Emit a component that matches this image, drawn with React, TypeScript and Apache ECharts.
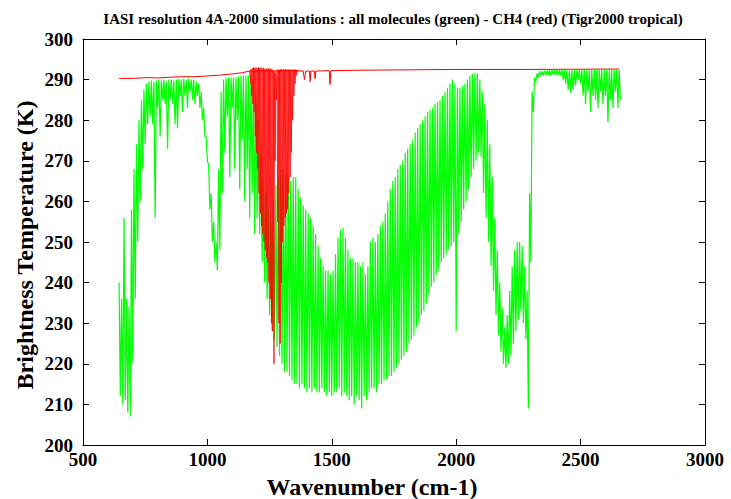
import React, { useEffect, useRef } from "react";
import * as echarts from "echarts";

// ---- Data ----
// Green: all molecules. Upper / lower envelope of the dense line spectrum,
// sampled on a 10 cm-1 grid starting at 645 cm-1.
const greenStart = 645;
const greenStep = 10;
const greenUpper = [
  240, 236, 256, 236, 234, 258, 268, 274, 280, 285, // 645-735
  287.5, 289, 289.5, 289.8, 289.5, 289.8, 290, 289.8, 290, 289.5, // 745-835
  290, 290, 289.8, 290, 290.2, 290, 290.2, 290, 290.3, 290, // 845-935
  290, 289.5, 289, 287, 283, 276, 269, 262, 255, 250, // 945-1035
  268, 287, 290, 290.5, 290.5, 290.5, 290.5, 290.5, 290.8, 291, // 1045-1135
  291, 291, 291, 291, 290, 286, 280, 272, 266, 262, // 1145-1235
  258, 255, 260, 264, 266, 268, 268, 267, 266, 265, // 1245-1335
  266, 266, 263, 261, 259, 258, 257, 256, 254, 252, // 1345-1435
  249, 246, 244, 243, 243, 242, 243, 247, 251, 253, // 1445-1535
  253.5, 251, 248, 246, 246, 245, 245, 244, 245, 242, // 1545-1635
  244, 250, 251, 250, 252, 254, 255, 257, 260, 263, // 1645-1735
  265, 266, 268, 269, 270, 272, 273, 274, 275, 277, // 1745-1835
  278, 279, 280, 281, 282, 282.5, 283, 284, 284.5, 285, // 1845-1935
  286, 287, 288, 289, 290, 289, 288, 288, 288.5, 289, // 1945-2035
  290, 291, 291.5, 291.6, 291.5, 290, 287, 284, 280, 274, // 2045-2135
  266, 256, 248, 240, 234, 229, 232, 238, 244, 248, // 2145-2235
  250, 250, 249, 244, 238, 262, 287, 290.5, 291.5, 292, // 2245-2335
  292, 292.2, 292.2, 292.3, 292.3, 292.4, 292.4, 292.4, 292.4, 292.4, // 2345-2435
  292.3, 292.3, 292.3, 292.4, 292.4, 292.4, 292.4, 292.4, 292.4, 292.4, // 2445-2535
  292.4, 292.4, 292.4, 292.4, 292.4, 292.4, 292.4, 292.4, 292.4, 292.4, // 2545-2635
  292.4, 292.4, // 2645-2655
];
const greenLower = [
  212, 210, 211, 208, 207, 220, 236, 250, 260, 268, // 645-735
  274, 279, 281, 279, 256, 283, 276, 285, 284, 273, // 745-835
  285, 284, 279, 278, 286, 282, 286, 283, 287, 285, // 845-935
  284, 286, 283, 280, 276, 270, 258, 250, 245, 243, // 945-1035
  248, 262, 272, 281, 266, 283, 268, 280, 263, 275, // 1045-1135
  260, 268, 256, 262, 252, 256, 252, 245, 240, 236, // 1145-1235
  232, 228, 226, 224, 222, 220, 218, 218, 217, 216, // 1245-1335
  215, 215, 214, 215, 214, 213, 214, 213, 214, 213, // 1345-1435
  213, 214, 213, 212, 213, 212, 213, 213, 214, 212, // 1445-1535
  213, 212, 211, 212, 210, 212, 211, 209, 212, 211, // 1545-1635
  213, 214, 214, 213, 215, 215, 216, 216, 217, 217, // 1645-1735
  218, 219, 220, 221, 222, 223, 225, 226, 227, 229, // 1745-1835
  230, 232, 233, 235, 237, 239, 240, 242, 243, 245, // 1845-1935
  246, 247, 248, 249, 250, 228, 252, 255, 258, 260, // 1945-2035
  263, 266, 268, 270, 272, 271, 262, 256, 250, 244, // 2045-2135
  238, 232, 227, 223, 220, 219, 220, 222, 225, 228, // 2145-2235
  231, 233, 230, 226, 209, 245, 282, 289.5, 290.5, 291, // 2245-2335
  291, 291, 291.2, 291, 291.2, 291, 291.2, 291, 290, 289, // 2345-2435
  287.5, 286.8, 287.5, 288.5, 290, 289, 286, 284, 287, 282, // 2445-2535
  286, 285, 283, 287, 284, 286, 279.5, 285, 283, 287, // 2545-2635
  283, 285, // 2645-2655
];

// Red: CH4 only. Strong band 1170-1360 cm-1 (5 cm-1 grid), envelope values.
const redBandStart = 1170;
const redBandStep = 5;
const redBandUpper = [
  292.3, 292.5, 292.8, 293, 292.8, 293, 292.8, 293, 292.8, 293,
  292.7, 292.9, 292.5, 292.8, 292.6, 292.8, 292.5, 292.7, 292.5, 292.2,
  292, 291.5, 292.3, 292.5, 292.4, 292.6, 292.4, 292.6, 292.4, 292.6,
  292.4, 292.5, 292.4, 292.5, 292.4, 292.5, 292.4, 292.5, 292.4,
];
const redBandLower = [
  289, 286, 284, 282, 276, 272, 268, 262, 257, 254,
  252, 250, 248, 246, 245, 240, 236, 230, 228, 220,
  270, 285, 255, 230, 225, 240, 250, 254, 256, 257,
  258, 262, 266, 272, 280, 286, 289, 291, 291.8,
];
// Red continuum line outside the band
const redLineWn = [
  645, 700, 760, 800, 850, 900, 950, 1000, 1050, 1100, 1140, 1170,
  1360, 1385, 1390, 1395, 1410, 1413, 1416, 1430, 1433, 1436,
  1490, 1493, 1496, 1600, 1800, 2000, 2300, 2655,
];
const redLineT = [
  290.3, 290.3, 290.5, 290.4, 290.6, 290.7, 290.7, 290.9, 291.1, 291.4, 291.7, 292.1,
  292.2, 292.1, 290, 292.1, 292.1, 289.5, 292.1, 292.1, 290.2, 292.1,
  292.2, 288.8, 292.2, 292.3, 292.4, 292.5, 292.5, 292.6,
];

const xTicks = { min: 500, max: 3000, interval: 500 };
const yTicks = { min: 200, max: 300, interval: 10 };

const TITLE =
  "IASI resolution 4A-2000 simulations : all molecules (green) - CH4 (red) (Tigr2000 tropical)";
const X_NAME = "Wavenumber (cm-1)";
const Y_NAME = "Brightness Temperature (K)";

function zigzag(start: number, step: number, upper: number[], lower: number[]) {
  const pts: number[][] = [];
  for (let i = 0; i < upper.length; i++) {
    const w = start + step * i;
    pts.push([w, upper[i]]);
    pts.push([w + step / 2, lower[i]]);
  }
  return pts;
}

const FONT = "'Liberation Serif', 'Times New Roman', serif";

export default function App() {
  const ref = useRef<HTMLDivElement>(null);
  useEffect(() => {
    document.body.style.margin = "0";
    if (!ref.current) return;
    const chart = echarts.init(ref.current, undefined, { renderer: "svg" });
    const axisCommon = {
      type: "value" as const,
      axisLine: { show: true, onZero: false, lineStyle: { color: "#000", width: 1 } },
      axisTick: { show: true, inside: true, length: 6, lineStyle: { color: "#000", width: 1 } },
      splitLine: { show: false },
    };
    const labelStyle = {
      color: "#000",
      fontFamily: FONT,
      fontWeight: "bold" as const,
      fontSize: 19,
      formatter: (v: number) => String(v),
    };
    const greenData = zigzag(greenStart, greenStep, greenUpper, greenLower);
    const redBandData = zigzag(redBandStart, redBandStep, redBandUpper, redBandLower);
    const redLineData = redLineWn.map((w, i) => [w, redLineT[i]]);

    chart.setOption({
      animation: false,
      backgroundColor: "#fff",
      title: {
        text: TITLE,
        left: 388,
        textAlign: "center",
        top: 6,
        textStyle: { color: "#000", fontFamily: FONT, fontWeight: "bold", fontSize: 15 },
      },
      grid: { left: 83, right: 26, top: 39, bottom: 54, containLabel: false },
      graphic: [
        {
          type: "text",
          x: 372,
          y: 487,
          style: {
            text: X_NAME,
            fill: "#000",
            font: `bold 24px ${FONT}`,
            textAlign: "center",
            textVerticalAlign: "middle",
          },
        },
        {
          type: "text",
          x: 25,
          y: 245,
          rotation: Math.PI / 2,
          style: {
            text: Y_NAME,
            fill: "#000",
            font: `bold 24px ${FONT}`,
            textAlign: "center",
            textVerticalAlign: "middle",
          },
        },
      ],
      xAxis: [
        {
          ...axisCommon,
          ...xTicks,
          position: "bottom",
          axisLabel: { ...labelStyle, margin: 5 },
        },
        {
          ...axisCommon,
          ...xTicks,
          position: "top",
          axisLabel: { show: false },
        },
      ],
      yAxis: [
        {
          ...axisCommon,
          ...yTicks,
          position: "left",
          axisLabel: { ...labelStyle, margin: 10 },
        },
        {
          ...axisCommon,
          ...yTicks,
          position: "right",
          axisLabel: { show: false },
        },
      ],
      series: [
        {
          type: "line",
          data: greenData,
          showSymbol: false,
          symbol: "none",
          silent: true,
          lineStyle: { color: "#00ff00", width: 1.2, opacity: 1 },
          z: 2,
        },
        {
          type: "line",
          data: redLineData,
          showSymbol: false,
          symbol: "none",
          silent: true,
          lineStyle: { color: "#ff0000", width: 1 },
          z: 3,
        },
        {
          type: "line",
          data: redBandData,
          showSymbol: false,
          symbol: "none",
          silent: true,
          lineStyle: { color: "#ff0000", width: 0.8 },
          z: 4,
        },
      ],
    });
    return () => chart.dispose();
  }, []);
  return <div ref={ref} style={{ width: 731, height: 499 }} />;
}
